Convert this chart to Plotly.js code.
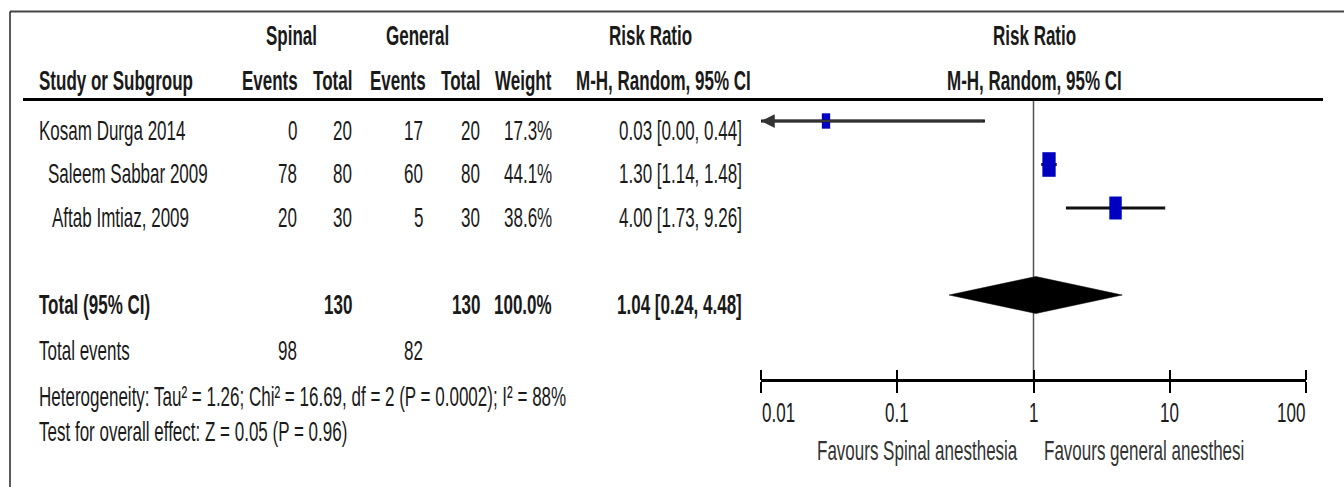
<!DOCTYPE html>
<html><head><meta charset="utf-8">
<script src="https://cdn.plot.ly/plotly-3.0.1.min.js"></script>
<style>html,body{margin:0;padding:0;background:#fff;} #chart{width:1344px;height:487px;}</style>
</head><body><div id="chart"></div>
<script>
// ---------- data ----------
const studies = ["Kosam Durga 2014", "Saleem Sabbar 2009", "Aftab Imtiaz, 2009"];
const spinalEvents = [0, 78, 20];
const spinalTotal = [20, 80, 30];
const generalEvents = [17, 60, 5];
const generalTotal = [20, 80, 30];
const weights = [17.3, 44.1, 38.6];
const riskRatio = [0.03, 1.30, 4.00];
const ciLow = [0.00, 1.14, 1.73];
const ciHigh = [0.44, 1.48, 9.26];
const pooledRR = [1.04];
const pooledLow = [0.24];
const pooledHigh = [4.48];
const totalSpinal = [130];
const totalGeneral = [130];
const totalWeight = [100.0];
const totalEventsSpinal = [98];
const totalEventsGeneral = [82];
const heterogeneityText = ["Heterogeneity: Tau² = 1.26; Chi² = 16.69, df = 2 (P = 0.0002); I² = 88%"];
const overallEffectText = ["Test for overall effect: Z = 0.05 (P = 0.96)"];
const tickVals = [0.01, 0.1, 1, 10, 100];
const tickLabels = ["0.01", "0.1", "1", "10", "100"];
const favoursLabels = ["Favours Spinal anesthesia", "Favours general anesthesi"];
const groupHeaders = ["Spinal", "General"];

// ---------- layout constants ----------
const W = 1344, H = 487;
const FONT = "'Liberation Sans', Arial, sans-serif";
const FS = 17;
const STRETCH = 1.68;                   // the reference text is tall and narrow
const TXT = "#1a1a1a";
const studyRows = [1, 2, 3];
const totalRow = 5;
const ROW0 = 121, ROWH = 43.5;          // pixel of row 1, pixels per row
const rowPx = r => ROW0 + ROWH * (r - 1);
const pxRow = p => 1 + (p - ROW0) / ROWH;
const XMIN = 0.01, XMAX = 100;
const col = {spE: 298, spT: 353, geE: 424, geT: 481, wt: 553, ci: 743};
const nameX = [38, 47, 51];
const TEXT_DY = 9;

function fmt2(v) { return v.toFixed(2); }
function ciText(e, l, h) { return fmt2(e) + " [" + fmt2(l) + ", " + fmt2(h) + "]"; }

const ann = [];
function txt(text, x, y, anchor, bold, color) {
  ann.push({xref: 'paper', yref: 'paper', x: x / W, y: 1 - y / H, xanchor: anchor, yanchor: 'middle',
    text: bold ? '<b>' + text + '</b>' : String(text), showarrow: false, borderpad: 0,
    font: {family: FONT, size: FS, color: color || TXT}});
}

// headers
txt(groupHeaders[0], 291, 35, 'center', true);
txt(groupHeaders[1], 417, 35, 'center', true);
txt("Risk Ratio", 650, 35, 'center', true);
txt("Risk Ratio", 1034, 35, 'center', true);
txt("Study or Subgroup", 38, 81, 'left', true);
txt("Events", col.spE + 1, 81, 'right', true);
txt("Total", col.spT, 81, 'right', true);
txt("Events", col.geE + 3, 81, 'right', true);
txt("Total", col.geT, 81, 'right', true);
txt("Weight", col.wt, 81, 'right', true);
txt("M-H, Random, 95% CI", 663, 81, 'center', true);
txt("M-H, Random, 95% CI", 1034, 81, 'center', true);

// study rows
studies.forEach((s, i) => {
  const y = rowPx(studyRows[i]) + TEXT_DY;
  txt(s, nameX[i], y, 'left', false);
  txt(spinalEvents[i], col.spE, y, 'right', false);
  txt(spinalTotal[i], col.spT, y, 'right', false);
  txt(generalEvents[i], col.geE, y, 'right', false);
  txt(generalTotal[i], col.geT, y, 'right', false);
  txt(weights[i].toFixed(1) + "%", col.wt, y, 'right', false);
  txt(ciText(riskRatio[i], ciLow[i], ciHigh[i]), col.ci, y, 'right', false);
});

// total row
const ty = rowPx(totalRow) + TEXT_DY;
txt("Total (95% CI)", 38, ty, 'left', true);
txt(totalSpinal[0], col.spT, ty, 'right', true);
txt(totalGeneral[0], col.geT, ty, 'right', true);
txt(totalWeight[0].toFixed(1) + "%", col.wt, ty, 'right', true);
txt(ciText(pooledRR[0], pooledLow[0], pooledHigh[0]), col.ci, ty, 'right', true);

txt("Total events", 38, 350, 'left', false);
txt(totalEventsSpinal[0], col.spE, 350, 'right', false);
txt(totalEventsGeneral[0], col.geE, 350, 'right', false);
txt(heterogeneityText[0], 38, 396, 'left', false);
txt(overallEffectText[0], 38, 431, 'left', false);

// axis tick labels (end labels aligned inward)
tickVals.forEach((v, i) => {
  const anchor = i === 0 ? 'left' : (i === tickVals.length - 1 ? 'right' : 'center');
  ann.push({xref: 'x', yref: 'paper', x: Math.log10(v), y: 1 - 412 / H, xanchor: anchor, yanchor: 'middle',
    text: tickLabels[i], showarrow: false, borderpad: 0, font: {family: FONT, size: FS, color: TXT}});
});
// favours labels
ann.push({xref: 'x', yref: 'paper', x: 0, xshift: -15, y: 1 - 450 / H, xanchor: 'right', yanchor: 'middle',
  text: favoursLabels[0], showarrow: false, borderpad: 0, font: {family: FONT, size: FS, color: '#333'}});
ann.push({xref: 'x', yref: 'paper', x: 0, xshift: 9, y: 1 - 450 / H, xanchor: 'left', yanchor: 'middle',
  text: favoursLabels[1], showarrow: false, borderpad: 0, font: {family: FONT, size: FS, color: '#333'}});

// arrows for clipped confidence intervals
studies.forEach((s, i) => {
  if (ciLow[i] < XMIN) {
    ann.push({xref: 'x', yref: 'y', axref: 'x', ayref: 'y',
      x: Math.log10(XMIN), y: studyRows[i], ax: Math.log10(Math.min(ciHigh[i], XMAX)), ay: studyRows[i],
      text: '', showarrow: true, arrowhead: 2, arrowsize: 1.1, arrowwidth: 2.5, arrowcolor: '#333', standoff: 0});
  }
});

// ---------- traces ----------
const ciX = [], ciY = [];
studies.forEach((s, i) => {
  ciX.push(Math.max(ciLow[i], XMIN), Math.min(ciHigh[i], XMAX), null);
  ciY.push(studyRows[i], studyRows[i], null);
});
const ciTrace = {x: ciX, y: ciY, mode: 'lines', line: {color: '#111', width: 3}, hoverinfo: 'skip', connectgaps: false};

const boxW = weights.map(w => 2.0 * Math.sqrt(w));
const boxH = weights.map(w => 3.7 * Math.sqrt(w));
const boxTrace = {x: riskRatio, y: studyRows, mode: 'markers', opacity: 1,
  marker: {symbol: 'line-ns', size: boxH.map(h => h / 1.4), color: '#0000c0', opacity: 1,
    line: {color: '#0000c0', width: boxW}}, hoverinfo: 'skip'};

const DH = 18.5 / ROWH;
const diamond = {x: [pooledLow[0], pooledRR[0], pooledHigh[0], pooledRR[0], pooledLow[0]],
  y: [totalRow, totalRow - DH, totalRow, totalRow + DH, totalRow],
  mode: 'lines', fill: 'toself', fillcolor: '#000', line: {color: '#000', width: 0.5}, hoverinfo: 'skip'};

const nullLine = {x: [1, 1], y: [pxRow(99), pxRow(380)], mode: 'lines',
  line: {color: '#555', width: 1.5}, hoverinfo: 'skip'};

const axisPos = 1 - 380 / H;
const layout = {
  width: W, height: H, margin: {l: 0, r: 0, t: 0, b: 0},
  paper_bgcolor: '#fff', plot_bgcolor: 'rgba(0,0,0,0)', showlegend: false,
  font: {family: FONT, size: FS, color: TXT},
  xaxis: {type: 'log', range: [Math.log10(XMIN), Math.log10(XMAX)], domain: [761 / W, 1306 / W],
    anchor: 'free', position: axisPos, showline: true, linewidth: 3, linecolor: '#000',
    ticks: 'outside', ticklen: 11, tickwidth: 2, tickcolor: '#000', tickvals: tickVals,
    showticklabels: false, showgrid: false, zeroline: false, fixedrange: true},
  xaxis2: {type: 'log', range: [Math.log10(XMIN), Math.log10(XMAX)], domain: [761 / W, 1306 / W],
    overlaying: 'x', side: 'top', anchor: 'free', position: axisPos, showline: false,
    ticks: 'outside', ticklen: 10, tickwidth: 2, tickcolor: '#000', tickvals: tickVals,
    showticklabels: false, showgrid: false, zeroline: false},
  yaxis: {range: [pxRow(H), pxRow(0)], domain: [0, 1], visible: false, fixedrange: true},
  annotations: ann,
  shapes: [
    {type: 'line', xref: 'paper', yref: 'paper', x0: 10 / W, x1: 1, y0: 1 - 11.5 / H, y1: 1 - 11.5 / H, line: {color: '#444', width: 2}},
    {type: 'line', xref: 'paper', yref: 'paper', x0: 10 / W, x1: 10 / W, y0: 1 - 11.5 / H, y1: 0, line: {color: '#222', width: 1.5}},
    {type: 'line', xref: 'paper', yref: 'paper', x0: 23 / W, x1: 1323 / W, y0: 1 - 99.5 / H, y1: 1 - 99.5 / H, line: {color: '#000', width: 3}}
  ]
};
const dummyTop = {x: [1], y: [1], xaxis: 'x2', mode: 'markers', marker: {opacity: 0}, hoverinfo: 'skip'};

Plotly.newPlot('chart', [nullLine, ciTrace, diamond, boxTrace, dummyTop], layout, {staticPlot: true, displayModeBar: false})
  .then(gd => {
    // stretch annotation text vertically around its own centre, as in the reference image
    gd.querySelectorAll('.annotation-text').forEach(t => {
      const b = t.getBBox();
      if (!b.height) return;
      const cy = b.y + b.height / 2;
      const prev = t.getAttribute('transform') || '';
      t.setAttribute('transform', prev + ' translate(0,' + cy + ') scale(1,' + STRETCH + ') translate(0,' + (-cy) + ')');
    });
  });
</script>
</body></html>
